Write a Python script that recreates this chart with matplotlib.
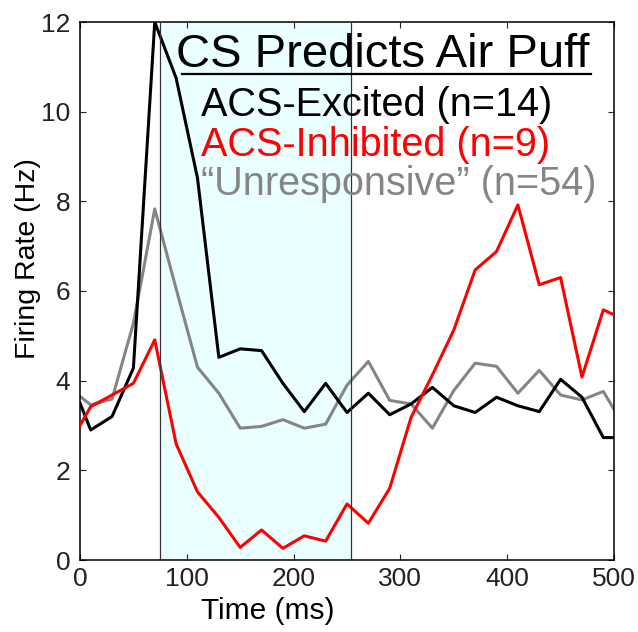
import matplotlib
matplotlib.use('Agg')
import matplotlib.pyplot as plt
from matplotlib.lines import Line2D

plt.rcParams['font.family'] = ['Liberation Sans', 'DejaVu Sans']

# --- data
time_ms = [0, 10, 30, 50, 70, 90, 110, 130, 150, 170, 190, 210, 230, 250, 270,
           290, 310, 330, 350, 370, 390, 410, 430, 450, 470, 490, 500]
excited = [3.5, 2.9, 3.2, 4.28, 12.0, 10.75, 8.52, 4.52, 4.71, 4.67, 3.94, 3.31,
           3.94, 3.29, 3.72, 3.24, 3.48, 3.85, 3.44, 3.29, 3.63, 3.44, 3.31,
           4.03, 3.63, 2.73, 2.73]
inhibited = [3.0, 3.42, 3.68, 3.94, 4.91, 2.59, 1.52, 0.95, 0.28, 0.67, 0.26, 0.54,
             0.42, 1.25, 0.82, 1.6, 3.18, 4.13, 5.13, 6.47, 6.88, 7.92, 6.14,
             6.30, 4.08, 5.58, 5.47]
unresp = [3.65, 3.46, 3.59, 5.28, 7.83, 6.05, 4.30, 3.72, 2.94, 2.98, 3.13, 2.94,
          3.03, 3.9, 4.43, 3.56, 3.48, 2.94, 3.78, 4.39, 4.32, 3.72, 4.23,
          3.68, 3.57, 3.76, 3.36]
shade_window = (75, 254)   # CS window in ms

x_ticks = [0, 100, 200, 300, 400, 500]
y_ticks = [0, 2, 4, 6, 8, 10, 12]

GRAY = '#858585'
RED = '#ff0000'
SHADE = '#eaffff'

W, H = 638, 632
fig = plt.figure(figsize=(W / 100, H / 100), dpi=100)
fig.patch.set_facecolor('white')
ax = fig.add_axes([80 / W, 1 - 560 / H, (614 - 80) / W, (560 - 22) / H])

# shaded CS window + its thin edges
ax.axvspan(shade_window[0], shade_window[1], color=SHADE, lw=0, zorder=0)
for xv in shade_window:
    ax.axvline(xv, color='#333333', lw=0.9, zorder=4)

ax.plot(time_ms, unresp, color=GRAY, lw=2.2, zorder=2)
ax.plot(time_ms, excited, color='black', lw=2.2, zorder=3)
ax.plot(time_ms, inhibited, color=RED, lw=2.2, zorder=3)

ax.set_xlim(0, 500)
ax.set_ylim(0, 12)
ax.set_xticks(x_ticks)
ax.set_yticks(y_ticks)
ax.tick_params(direction='in', length=4, width=0.8, top=True, right=True,
               labelsize=19, colors='#222222')
ax.tick_params(axis='x', pad=5)
ax.tick_params(axis='y', pad=7)
for sp in ax.spines.values():
    sp.set_linewidth(1.1)

# axis labels placed where they sit in the reference
fig.text(268 / W, 1 - 611 / H, 'Time (ms)', fontsize=21.5, ha='center', va='center')
fig.text(28 / W, 1 - 259 / H, 'Firing Rate (Hz)', fontsize=20.5, rotation=90,
         ha='center', va='center')

# title + text legend
fig.text(176 / W, 1 - 67 / H, 'CS Predicts Air Puff', fontsize=34,
         ha='left', va='baseline')
fig.add_artist(Line2D([182 / W, 591 / W], [1 - 73.5 / H, 1 - 73.5 / H],
                      color='black', lw=1.6))
fig.text(201 / W, 1 - 116.5 / H, 'ACS-Excited (n=14)', fontsize=28.5,
         color='black', ha='left', va='baseline')
fig.text(201 / W, 1 - 156 / H, 'ACS-Inhibited (n=9)', fontsize=28.5,
         color=RED, ha='left', va='baseline')
fig.text(201 / W, 1 - 195 / H, '\u201cUnresponsive\u201d (n=54)', fontsize=28.5,
         color=GRAY, ha='left', va='baseline')

fig.savefig('out.png', dpi=100)
